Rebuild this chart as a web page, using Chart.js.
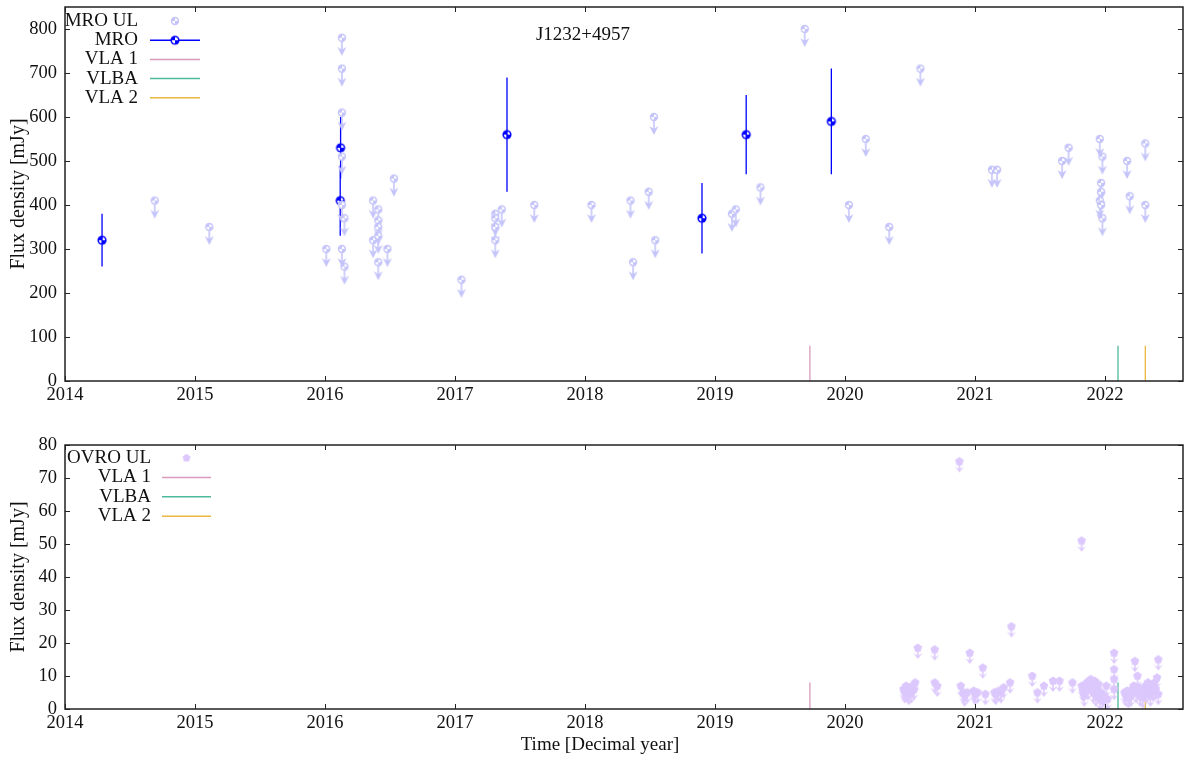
<!DOCTYPE html>
<html>
<head>
<meta charset="utf-8">
<script src="https://cdn.jsdelivr.net/npm/chart.js@4.4.0/dist/chart.umd.min.js"></script>
<style>
html, body { margin: 0; padding: 0; background: #fff; }
#wrap { position: relative; width: 1190px; height: 758px; }
.box { position: absolute; left: 0; width: 1190px; }
</style>
</head>
<body>
<div id="wrap">
  <div class="box" style="top:0;height:420px"><canvas id="mroChart"></canvas></div>
  <div class="box" style="top:420px;height:338px"><canvas id="ovroChart"></canvas></div>
</div>
<script>
// MRO upper limits
const mroUlYears = [2014.69, 2015.11, 2016.01, 2016.13, 2016.13, 2016.13, 2016.13, 2016.13, 2016.13,
  2016.15, 2016.15, 2016.37, 2016.37, 2016.41, 2016.41, 2016.41, 2016.41, 2016.41, 2016.48, 2016.53,
  2017.05, 2017.31, 2017.31, 2017.31, 2017.31, 2017.36, 2017.61, 2018.05, 2018.35, 2018.37, 2018.49,
  2018.53, 2018.54, 2019.13, 2019.16, 2019.35, 2019.69, 2020.03, 2020.16, 2020.34, 2020.58, 2021.13,
  2021.17, 2021.67, 2021.72, 2021.96, 2021.98, 2021.97, 2021.97, 2021.96, 2021.97, 2021.98, 2022.17,
  2022.19, 2022.31, 2022.31];
const mroUlFlux = [410, 350, 300, 780, 710, 610, 510, 400, 300,
  370, 260, 410, 320, 390, 365, 350, 330, 270, 300, 460,
  230, 380, 370, 350, 320, 390, 400, 400, 410, 270, 430,
  600, 320, 380, 390, 440, 800, 400, 550, 350, 710, 480,
  480, 500, 530, 550, 510, 450, 430, 410, 400, 370, 500,
  420, 540, 400];

// MRO detections with errors
const mroYears = [2014.285, 2016.117, 2016.12, 2017.40, 2018.90, 2019.24, 2019.895];
const mroFlux = [320, 410, 530, 560, 370, 560, 590];
const mroErr = [60, 80, 70, 130, 80, 90, 120];

// OVRO upper limits
const ovroYears = [2020.45, 2020.46, 2020.47, 2020.48, 2020.49, 2020.50, 2020.51, 2020.52, 2020.53, 2020.54,
  2020.56, 2020.69, 2020.69, 2020.71, 2020.88, 2020.89, 2020.91, 2020.92, 2020.94, 2020.96,
  2020.99, 2021.00, 2021.02, 2021.06, 2021.08, 2021.15, 2021.16, 2021.18, 2021.20, 2021.22,
  2021.27, 2021.28, 2021.44, 2021.48, 2021.53, 2021.60, 2021.65, 2021.75, 2021.82, 2021.82,
  2021.83, 2021.84, 2021.85, 2021.86, 2021.87, 2021.88, 2021.89, 2021.90, 2021.91, 2021.92,
  2021.93, 2021.94, 2021.95, 2021.96, 2021.97, 2021.98, 2021.99, 2022.01, 2022.02, 2022.07,
  2022.07, 2022.07, 2022.07, 2022.15, 2022.16, 2022.17, 2022.18, 2022.19, 2022.20, 2022.21,
  2022.22, 2022.23, 2022.24, 2022.25, 2022.26, 2022.27, 2022.28, 2022.29, 2022.30, 2022.31,
  2022.32, 2022.33, 2022.34, 2022.35, 2022.36, 2022.37, 2022.38, 2022.39, 2022.40, 2022.41,
  2022.41];
const ovroFlux = [6, 5, 7, 5.5, 4.5, 6.5, 5, 7, 6, 8,
  18.5, 18, 8, 7, 75, 7, 5, 4, 5, 17,
  5.5, 4.5, 5, 12.5, 4.5, 5, 4.5, 5.5, 5, 6.5,
  8, 25, 10, 5, 7, 8.5, 8.5, 8, 51, 7,
  5.5, 4, 7, 8, 6, 8.5, 9, 7, 5, 8.5,
  4, 6, 7.5, 3, 5, 2.5, 4, 7, 3, 17,
  12, 9, 6, 5, 4, 5.5, 3.5, 5, 4, 6,
  7, 14.5, 5, 10, 6.5, 4, 5.5, 3.5, 6, 7,
  5, 8, 6, 4, 7, 5.5, 8, 6, 9.5, 15,
  4.5];

// observation epochs (vertical markers)
const vlaLabels = ['VLA 1', 'VLBA', 'VLA 2'];
const vlaEpochs = [2019.73, 2022.10, 2022.31];
const vlaColors = ['rgba(204,121,167,0.75)', 'rgba(0,158,115,0.7)', 'rgba(230,159,0,0.75)'];

const FONT = "'Liberation Serif', 'DejaVu Serif', serif";
const MRO_UL_COLOR = '#c4c4fa';
const MRO_COLOR = '#0000ff';
const OVRO_COLOR = '#dcc8fc';

// gnuplot-like circle with two white quadrants
function quadCircle(g, cx, cy, r, color) {
  g.fillStyle = color;
  g.beginPath(); g.arc(cx, cy, r, 0, 2 * Math.PI); g.fill();
  g.fillStyle = '#fff';
  g.beginPath(); g.moveTo(cx, cy); g.arc(cx, cy, r - 1.5, -Math.PI / 2, 0); g.closePath(); g.fill();
  g.beginPath(); g.moveTo(cx, cy); g.arc(cx, cy, r - 1.5, Math.PI / 2, Math.PI); g.closePath(); g.fill();
}

function pentagon(g, cx, cy, r, color) {
  g.fillStyle = color;
  g.beginPath();
  for (let i = 0; i < 5; i++) {
    const a = -Math.PI / 2 + i * 2 * Math.PI / 5;
    const px = cx + r * Math.cos(a), py = cy + r * Math.sin(a);
    if (i === 0) g.moveTo(px, py); else g.lineTo(px, py);
  }
  g.closePath(); g.fill();
}

// marker image: head at the centre, optional arrow pointing down
function makeMarker(color, r, len, shape, hl, hw) {
  const c = document.createElement('canvas');
  c.width = 16;
  c.height = Math.max(16, 2 * len + 4);
  const g = c.getContext('2d');
  const cx = c.width / 2, cy = c.height / 2;
  if (len > 0) {
    g.strokeStyle = color; g.lineWidth = 1.6;
    g.beginPath(); g.moveTo(cx, cy); g.lineTo(cx, cy + len - 3); g.stroke();
    g.fillStyle = color;
    g.beginPath();
    g.moveTo(cx, cy + len);
    g.lineTo(cx - hw, cy + len - hl);
    g.lineTo(cx, cy + len - hl + 3);
    g.lineTo(cx + hw, cy + len - hl);
    g.closePath(); g.fill();
  }
  if (shape === 'pent') pentagon(g, cx, cy, r, color);
  else quadCircle(g, cx, cy, r, color);
  return c;
}

const mroUlPoint = makeMarker(MRO_UL_COLOR, 4.2, 18, 'circle', 9, 4.5);
const mroUlLegend = makeMarker(MRO_UL_COLOR, 4.2, 0, 'circle');
const mroPoint = makeMarker(MRO_COLOR, 4.6, 0, 'circle');
const ovroPoint = makeMarker(OVRO_COLOR, 4.6, 11, 'pent', 6, 4.5);
const ovroLegend = makeMarker(OVRO_COLOR, 4.2, 0, 'pent');

function zipPoints(xs, ys) {
  return xs.map((x, i) => ({ x: x, y: ys[i] }));
}

function errorSegments(xs, ys, es) {
  const out = [];
  xs.forEach((x, i) => {
    out.push({ x: x, y: ys[i] - es[i] }, { x: x, y: ys[i] + es[i] }, { x: x, y: null });
  });
  return out;
}

function epochDataset(i, height) {
  return {
    label: vlaLabels[i],
    data: [{ x: vlaEpochs[i], y: 0 }, { x: vlaEpochs[i], y: height }],
    showLine: true,
    borderColor: vlaColors[i],
    borderWidth: 1.3,
    pointRadius: 0
  };
}

// frame, inward ticks, inner title and gnuplot style key
const gnuFrame = {
  id: 'gnuFrame',
  afterDraw(chart, args, opts) {
    const { ctx, chartArea: a, scales } = chart;
    const tl = 5;
    ctx.save();
    ctx.strokeStyle = '#222';
    ctx.lineWidth = 1;
    ctx.beginPath();
    scales.x.ticks.forEach(t => {
      const px = Math.round(scales.x.getPixelForValue(t.value)) + 0.5;
      ctx.moveTo(px, a.bottom); ctx.lineTo(px, a.bottom - tl);
      ctx.moveTo(px, a.top); ctx.lineTo(px, a.top + tl);
    });
    scales.y.ticks.forEach(t => {
      const py = Math.round(scales.y.getPixelForValue(t.value)) + 0.5;
      ctx.moveTo(a.left, py); ctx.lineTo(a.left + tl, py);
      ctx.moveTo(a.right, py); ctx.lineTo(a.right - tl, py);
    });
    ctx.stroke();
    ctx.lineWidth = 1.5;
    ctx.strokeRect(a.left, a.top, a.right - a.left, a.bottom - a.top);

    ctx.fillStyle = '#111';
    ctx.font = '19px ' + FONT;
    ctx.textBaseline = 'middle';
    (opts.texts || []).forEach(t => {
      ctx.textAlign = 'center';
      ctx.fillText(t.text, t.x, t.y);
    });

    const k = opts.key;
    if (k) {
      k.items.forEach((it, i) => {
        const y = k.y + i * k.dy;
        ctx.fillStyle = '#111';
        ctx.textAlign = 'right';
        ctx.fillText(it.text, k.textRight, y);
        if (it.line) {
          ctx.strokeStyle = it.line;
          ctx.lineWidth = 1.5;
          ctx.beginPath(); ctx.moveTo(k.x1, y); ctx.lineTo(k.x2, y); ctx.stroke();
        }
        if (it.marker) {
          const m = it.marker, mx = (k.x1 + k.x2) / 2;
          ctx.drawImage(m, mx - m.width / 2, y - m.height / 2);
        }
      });
    }
    ctx.restore();
  }
};

function baseScales(yMax, yStep, xHeight, yTitle) {
  return {
    x: {
      type: 'linear', min: 2014, max: 2022.6,
      grid: { display: false, drawTicks: false }, border: { display: false },
      ticks: {
        stepSize: 1, includeBounds: false, autoSkip: false, maxRotation: 0,
        padding: 3, color: '#111', font: { family: FONT, size: 18.5 },
        callback: v => String(v)
      },
      afterFit: s => { s.height = xHeight; s.paddingLeft = 0; s.paddingRight = 0; }
    },
    y: {
      min: 0, max: yMax,
      grid: { display: false, drawTicks: false }, border: { display: false },
      ticks: {
        stepSize: yStep, includeBounds: false, padding: 8, color: '#111',
        font: { family: FONT, size: 18.5 }, callback: v => String(v)
      },
      title: { display: true, text: yTitle, color: '#111', padding: 7, font: { family: FONT, size: 20 } },
      afterFit: s => { s.width = 65; s.paddingTop = 0; s.paddingBottom = 0; }
    }
  };
}

new Chart(document.getElementById('mroChart'), {
  type: 'scatter',
  data: {
    datasets: [
      { label: 'MRO UL', data: zipPoints(mroUlYears, mroUlFlux), pointStyle: mroUlPoint, pointRadius: 6 },
      { label: 'MRO err', data: errorSegments(mroYears, mroFlux, mroErr), showLine: true, spanGaps: false,
        borderColor: MRO_COLOR, borderWidth: 1.3, pointRadius: 0 },
      { label: 'MRO', data: zipPoints(mroYears, mroFlux), pointStyle: mroPoint, pointRadius: 6 },
      epochDataset(0, 80),
      epochDataset(1, 80),
      epochDataset(2, 80)
    ]
  },
  options: {
    responsive: true,
    maintainAspectRatio: false,
    animation: false,
    layout: { padding: { top: 7, right: 2, left: 0, bottom: 0 } },
    scales: baseScales(850, 100, 39, 'Flux density [mJy]'),
    plugins: {
      legend: { display: false },
      tooltip: { enabled: false },
      gnuFrame: {
        texts: [{ text: 'J1232+4957', x: 583, y: 35 }],
        key: {
          y: 21, dy: 19.2, textRight: 138, x1: 150, x2: 200,
          items: [
            { text: 'MRO UL', marker: mroUlLegend },
            { text: 'MRO', line: MRO_COLOR, marker: mroPoint },
            { text: vlaLabels[0], line: vlaColors[0] },
            { text: vlaLabels[1], line: vlaColors[1] },
            { text: vlaLabels[2], line: vlaColors[2] }
          ]
        }
      }
    }
  },
  plugins: [gnuFrame]
});

new Chart(document.getElementById('ovroChart'), {
  type: 'scatter',
  data: {
    datasets: [
      { label: 'OVRO UL', data: zipPoints(ovroYears, ovroFlux), pointStyle: ovroPoint, pointRadius: 6 },
      epochDataset(0, 8),
      epochDataset(1, 8),
      epochDataset(2, 8)
    ]
  },
  options: {
    responsive: true,
    maintainAspectRatio: false,
    animation: false,
    layout: { padding: { top: 25, right: 2, left: 0, bottom: 0 } },
    scales: baseScales(80, 10, 49, 'Flux density [mJy]'),
    plugins: {
      legend: { display: false },
      tooltip: { enabled: false },
      gnuFrame: {
        texts: [{ text: 'Time [Decimal year]', x: 600, y: 325 }],
        key: {
          y: 38, dy: 19.4, textRight: 151, x1: 162, x2: 211,
          items: [
            { text: 'OVRO UL', marker: ovroLegend },
            { text: vlaLabels[0], line: vlaColors[0] },
            { text: vlaLabels[1], line: vlaColors[1] },
            { text: vlaLabels[2], line: vlaColors[2] }
          ]
        }
      }
    }
  },
  plugins: [gnuFrame]
});
</script>
</body>
</html>
